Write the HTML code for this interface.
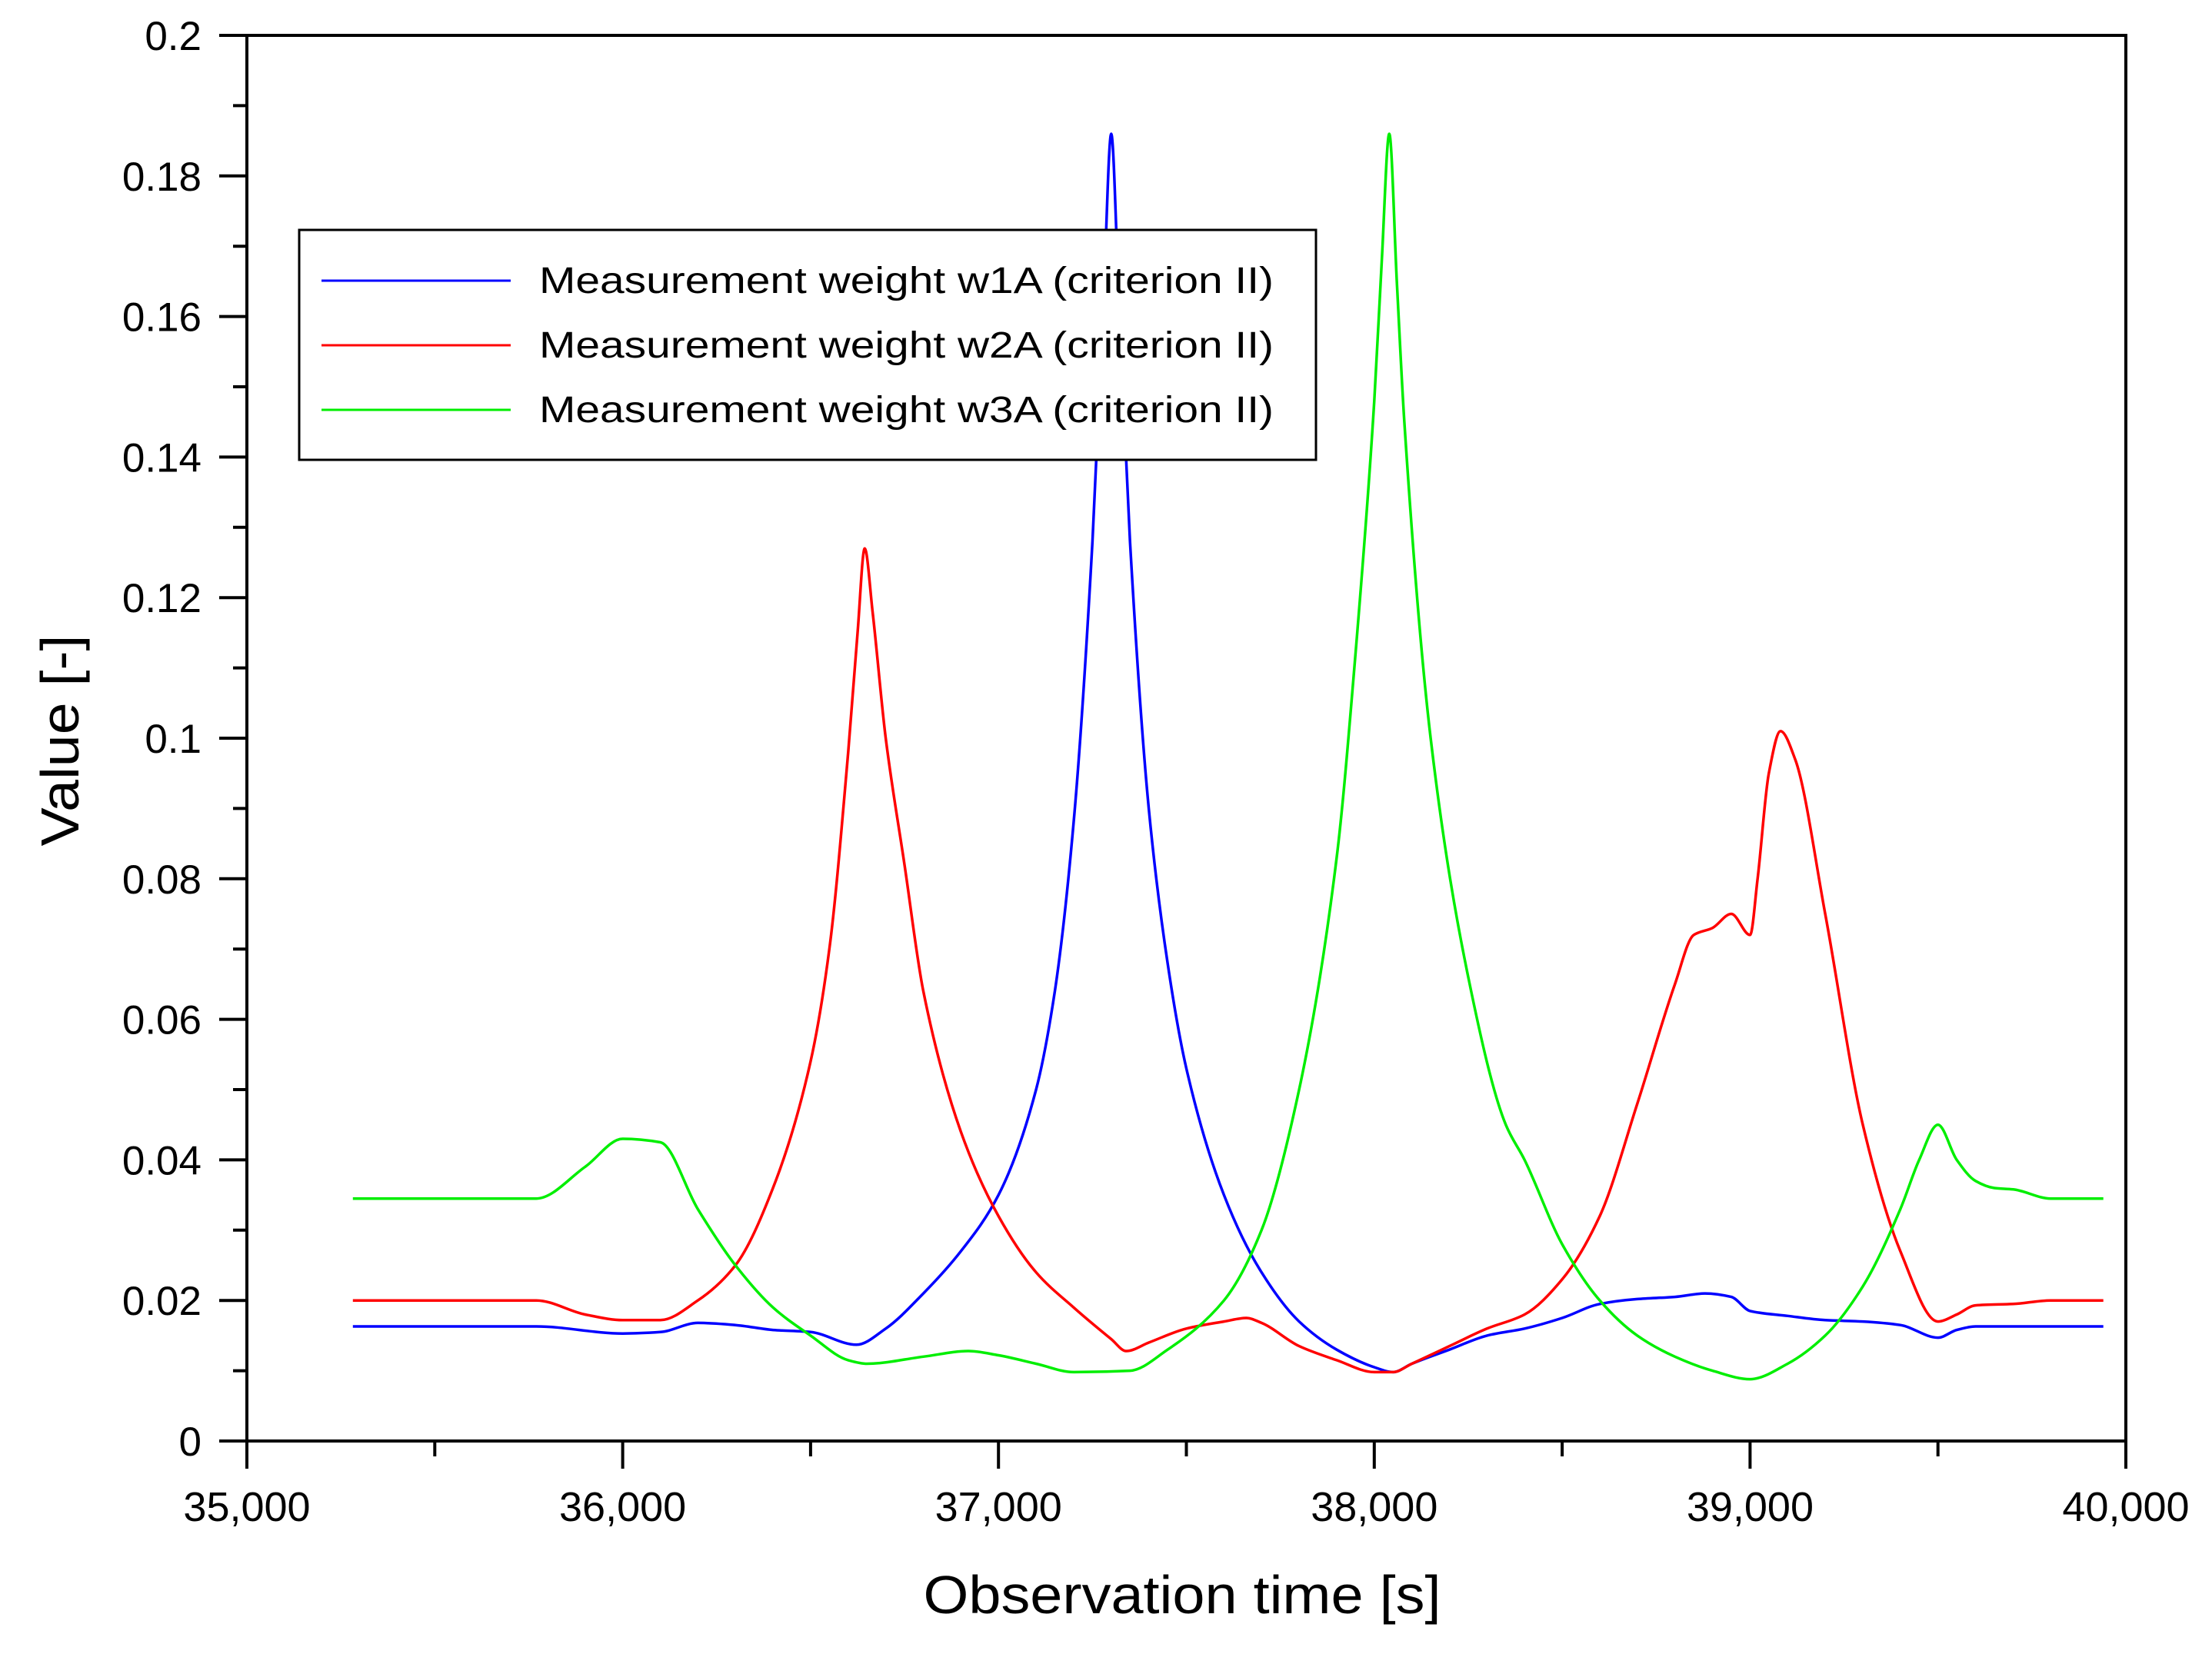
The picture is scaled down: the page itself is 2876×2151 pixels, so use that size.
<!DOCTYPE html>
<html><head><meta charset="utf-8">
<style>
html,body{margin:0;padding:0;background:#fff;}
svg{display:block;font-family:"Liberation Sans",Arial,sans-serif;}
</style></head>
<body>
<svg id="chart" width="2876" height="2151" viewBox="0 0 2876 2151" xmlns="http://www.w3.org/2000/svg">
<rect x="0" y="0" width="2876" height="2151" fill="#fff"/>
<g id="axes"></g>
<g id="series"></g>
<rect x="321" y="46" width="2443" height="1828" fill="none" stroke="#000" stroke-width="4"/>
<g>
<rect x="389" y="299" width="1322" height="299" fill="#fff" stroke="#000" stroke-width="3"/>
<line x1="418" y1="365" x2="664" y2="365" stroke="#0000ff" stroke-width="3"/>
<text x="701" y="381" font-size="48" textLength="955" lengthAdjust="spacingAndGlyphs" fill="#000">Measurement weight w1A (criterion II)</text>
<line x1="418" y1="449" x2="664" y2="449" stroke="#ff0000" stroke-width="3"/>
<text x="701" y="465" font-size="48" textLength="955" lengthAdjust="spacingAndGlyphs" fill="#000">Measurement weight w2A (criterion II)</text>
<line x1="418" y1="533" x2="664" y2="533" stroke="#00ee00" stroke-width="3"/>
<text x="701" y="549" font-size="48" textLength="955" lengthAdjust="spacingAndGlyphs" fill="#000">Measurement weight w3A (criterion II)</text>
</g>
<text x="1537" y="2098" font-size="70" text-anchor="middle" textLength="673" lengthAdjust="spacingAndGlyphs" fill="#000">Observation time [s]</text>
<text x="0" y="0" font-size="70" text-anchor="middle" textLength="275" lengthAdjust="spacingAndGlyphs" fill="#000" transform="translate(102,963) rotate(-90)">Value [-]</text>
</svg>
<script>
const xTicks = [35000, 36000, 37000, 38000, 39000, 40000];
const xTickLabels = ["35,000", "36,000", "37,000", "38,000", "39,000", "40,000"];
const yTicks = [0, 0.02, 0.04, 0.06, 0.08, 0.1, 0.12, 0.14, 0.16, 0.18, 0.2];
const yTickLabels = ["0", "0.02", "0.04", "0.06", "0.08", "0.1", "0.12", "0.14", "0.16", "0.18", "0.2"];

const w1aX = [35282,35770,36000,36100,36200,36300,36400,36500,36622,36700,36800,36900,37000,37100,37150,37200,37250,37280,37300,37320,37350,37400,37450,37500,37600,37700,37800,37900,38000,38050,38100,38200,38300,38400,38500,38600,38700,38800,38880,38950,39000,39100,39200,39300,39400,39500,39550,39600,39940];
const w1aY = [0.0163,0.0163,0.0153,0.0155,0.0168,0.0165,0.0158,0.0155,0.0137,0.016,0.021,0.027,0.035,0.05,0.064,0.088,0.128,0.163,0.186,0.163,0.128,0.09,0.068,0.053,0.035,0.024,0.017,0.013,0.0105,0.0098,0.011,0.013,0.015,0.016,0.0175,0.0195,0.0202,0.0205,0.021,0.0205,0.0185,0.0178,0.0172,0.017,0.0165,0.0147,0.0158,0.0163,0.0163];

const w2aX = [35282,35770,35900,36000,36100,36200,36300,36400,36500,36550,36600,36625,36644,36665,36700,36750,36800,36900,37000,37100,37200,37300,37340,37400,37500,37600,37660,37700,37800,37900,38000,38050,38100,38200,38300,38400,38500,38600,38700,38800,38850,38900,38950,39000,39020,39050,39081,39120,39200,39300,39400,39500,39550,39600,39700,39800,39940];
const w2aY = [0.02,0.02,0.018,0.0172,0.0172,0.02,0.025,0.036,0.054,0.07,0.098,0.115,0.127,0.118,0.1,0.082,0.064,0.044,0.032,0.024,0.019,0.0145,0.0128,0.014,0.016,0.017,0.0175,0.0168,0.0135,0.0115,0.0098,0.0098,0.011,0.0135,0.016,0.018,0.023,0.032,0.048,0.065,0.072,0.073,0.075,0.072,0.08,0.095,0.101,0.097,0.075,0.045,0.027,0.017,0.018,0.0193,0.0195,0.02,0.02];

const w3aX = [35282,35770,35900,36000,36100,36200,36300,36400,36500,36600,36650,36800,36920,37000,37100,37200,37350,37450,37600,37700,37800,37900,37950,38000,38020,38040,38060,38080,38150,38250,38350,38400,38500,38600,38700,38800,38900,39000,39100,39200,39300,39400,39450,39500,39550,39600,39650,39700,39800,39940];
const w3aY = [0.0345,0.0345,0.039,0.043,0.0425,0.033,0.025,0.019,0.015,0.0115,0.011,0.012,0.0128,0.0122,0.011,0.0098,0.01,0.013,0.02,0.03,0.05,0.083,0.112,0.148,0.168,0.186,0.165,0.145,0.1,0.066,0.045,0.04,0.028,0.02,0.015,0.012,0.01,0.0088,0.011,0.015,0.022,0.033,0.04,0.045,0.04,0.037,0.036,0.0358,0.0345,0.0345];

const NS = "http://www.w3.org/2000/svg";
const L = 321, R = 2764, T = 46, B = 1874;
function xs(v){ return L + (v - 35000) / 5000 * (R - L); }
function ys(v){ return B - v / 0.2 * (B - T); }

const axes = document.getElementById('axes');
function mk(tag, attrs, parent){
  const e = document.createElementNS(NS, tag);
  for (const k in attrs) e.setAttribute(k, attrs[k]);
  parent.appendChild(e);
  return e;
}
xTicks.forEach((v, i) => {
  const t = mk('line', {x1: xs(v), y1: B, x2: xs(v), y2: B + 36, stroke: '#000', 'stroke-width': 4}, axes);
  
  
  const lb = mk('text', {x: xs(v), y: 1978, 'font-size': 54, 'text-anchor': 'middle', fill: '#000'}, axes);
  lb.textContent = xTickLabels[i];
  
  
  if (i < xTicks.length - 1) {
    const m = mk('line', {x1: xs(v + 500), y1: B, x2: xs(v + 500), y2: B + 20, stroke: '#000', 'stroke-width': 4}, axes);
    
    
  }
});
yTicks.forEach((v, i) => {
  const t = mk('line', {x1: L - 36, y1: ys(v), x2: L, y2: ys(v), stroke: '#000', 'stroke-width': 4}, axes);
  
  
  const lb = mk('text', {x: 262, y: ys(v) + 19, 'font-size': 53, 'text-anchor': 'end', fill: '#000'}, axes);
  lb.textContent = yTickLabels[i];
  
  
  if (i < yTicks.length - 1) {
    const m = mk('line', {x1: L - 18, y1: ys(v + 0.01), x2: L, y2: ys(v + 0.01), stroke: '#000', 'stroke-width': 4}, axes);
    
    
  }
});

// monotone cubic path (no overshoot)
function monoPath(px, py){
  const n = px.length, d = [], m = new Array(n);
  for (let i = 0; i < n - 1; i++) d.push((py[i+1]-py[i])/(px[i+1]-px[i]));
  m[0] = d[0]; m[n-1] = d[n-2];
  for (let i = 1; i < n - 1; i++) {
    if (d[i-1]*d[i] <= 0) m[i] = 0;
    else { const h0 = px[i]-px[i-1], h1 = px[i+1]-px[i]; const w1 = 2*h1+h0, w2 = h1+2*h0; m[i] = (w1+w2)/(w1/d[i-1]+w2/d[i]); }
  }
  let s = 'M' + px[0].toFixed(1) + ',' + py[0].toFixed(1);
  for (let i = 0; i < n - 1; i++) {
    const h = (px[i+1]-px[i])/3;
    s += ' C' + (px[i]+h).toFixed(1) + ',' + (py[i]+m[i]*h).toFixed(1) + ' ' + (px[i+1]-h).toFixed(1) + ',' + (py[i+1]-m[i+1]*h).toFixed(1) + ' ' + px[i+1].toFixed(1) + ',' + py[i+1].toFixed(1);
  }
  return s;
}
const series = document.getElementById('series');
function drawLine(xa, ya, color, name){
  const p = mk('path', {d: monoPath(xa.map(xs), ya.map(ys)), fill: 'none', stroke: color, 'stroke-width': 3.5, 'stroke-linejoin': 'round'}, series);
  
  
}
drawLine(w1aX, w1aY, '#0000ff', 'line-w1a');
drawLine(w2aX, w2aY, '#ff0000', 'line-w2a');
drawLine(w3aX, w3aY, '#00ee00', 'line-w3a');
</script>
</body></html>
